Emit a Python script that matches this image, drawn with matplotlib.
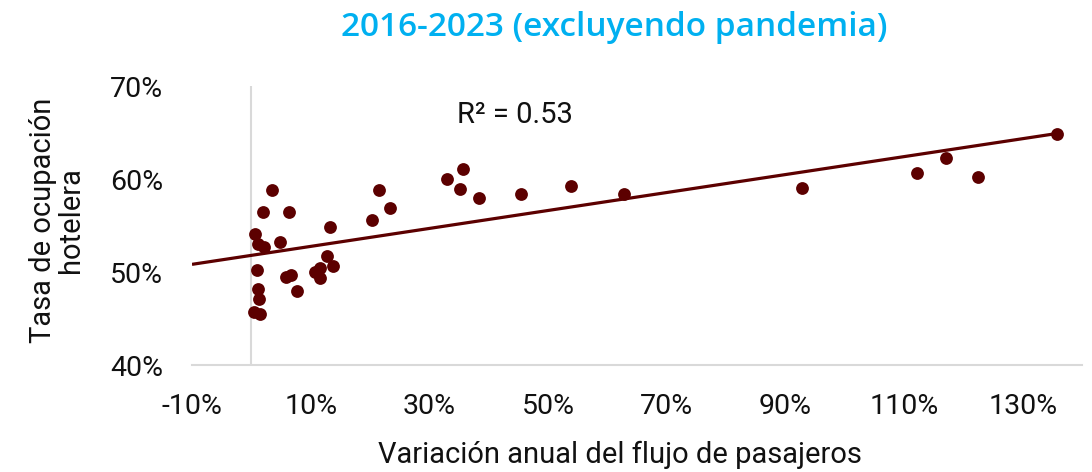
import numpy as np
import matplotlib
matplotlib.use("Agg")
import matplotlib.pyplot as plt
from matplotlib.ticker import FuncFormatter

# Annual variation in passenger flow (fraction) and hotel occupancy rate (fraction)
pasajeros = [0.035, 0.019, 0.063, 0.007, 0.011, 0.021, 0.048, 0.133, 0.215, 0.234,
             0.204, 0.010, 0.059, 0.067, 0.077, 0.012, 0.013, 0.004, 0.015, 0.108,
             0.115, 0.116, 0.127, 0.137, 0.330, 0.356, 0.351, 0.384, 0.454, 0.539,
             0.628, 0.928, 1.122, 1.170, 1.225, 1.358]
ocupacion = [0.588, 0.564, 0.564, 0.541, 0.530, 0.527, 0.532, 0.548, 0.588, 0.569,
             0.556, 0.502, 0.495, 0.497, 0.480, 0.482, 0.471, 0.457, 0.455, 0.500,
             0.504, 0.494, 0.517, 0.506, 0.600, 0.611, 0.589, 0.580, 0.584, 0.592,
             0.584, 0.590, 0.606, 0.623, 0.602, 0.648]

r2_label = "R² = 0.53"
title = "2016-2023 (excluyendo pandemia)"
xlabel = "Variación anual del flujo de pasajeros"
ylabel = "Tasa de ocupación\nhotelera"
xticks = [-0.10, 0.10, 0.30, 0.50, 0.70, 0.90, 1.10, 1.30]
yticks = [0.40, 0.50, 0.60, 0.70]

dark = "#5C0000"
grey = "#D9D9D9"

plt.rcParams['font.family'] = ['Roboto', 'DejaVu Sans']

fig = plt.figure(figsize=(10.92, 4.72), dpi=100)
ax = fig.add_axes([192/1092, 1-365/472, (1082-192)/1092, (365-86)/472])

ax.set_xlim(-0.10, 1.40)
ax.set_ylim(0.40, 0.70)

# vertical axis at x = 0
ax.axvline(0, color=grey, lw=1.5, zorder=1)

x = np.array(pasajeros)
y = np.array(ocupacion)
slope, inter = np.polyfit(x, y, 1)
xl = np.array([-0.10, x.max()])
ax.plot(xl, slope*xl + inter, color=dark, lw=2.3, zorder=2, solid_capstyle='butt')
ax.scatter(x, y, s=85, color=dark, zorder=3, linewidths=0)

ax.text(0.445, 0.669, r2_label, fontsize=21, ha='center', va='center', color='#111111')

for s in ['top', 'right', 'left']:
    ax.spines[s].set_visible(False)
ax.spines['bottom'].set_color(grey)
ax.spines['bottom'].set_linewidth(1.5)

ax.set_xticks(xticks)
ax.set_yticks(yticks)
pct = FuncFormatter(lambda v, p: f"{v*100:.0f}%")
ax.xaxis.set_major_formatter(pct)
ax.yaxis.set_major_formatter(pct)
ax.tick_params(axis='both', length=0, labelsize=20.5, colors='#111111')
ax.tick_params(axis='x', pad=20)
ax.tick_params(axis='y', pad=21)

fig.text(620/1092, 1-455/472, xlabel, fontsize=21, ha='center', va='center', color='#111111')
fig.text(57/1092, 1-220/472, ylabel, fontsize=21, ha='center', va='center',
         rotation=90, color='#111111', linespacing=1.0)
fig.text(614/1092, 1-27/472, title, fontsize=24, ha='center', va='center',
         color='#00B0F0', fontweight='semibold', family=['Open Sans', 'DejaVu Sans'])

fig.savefig("out.png", dpi=100, facecolor='white')
